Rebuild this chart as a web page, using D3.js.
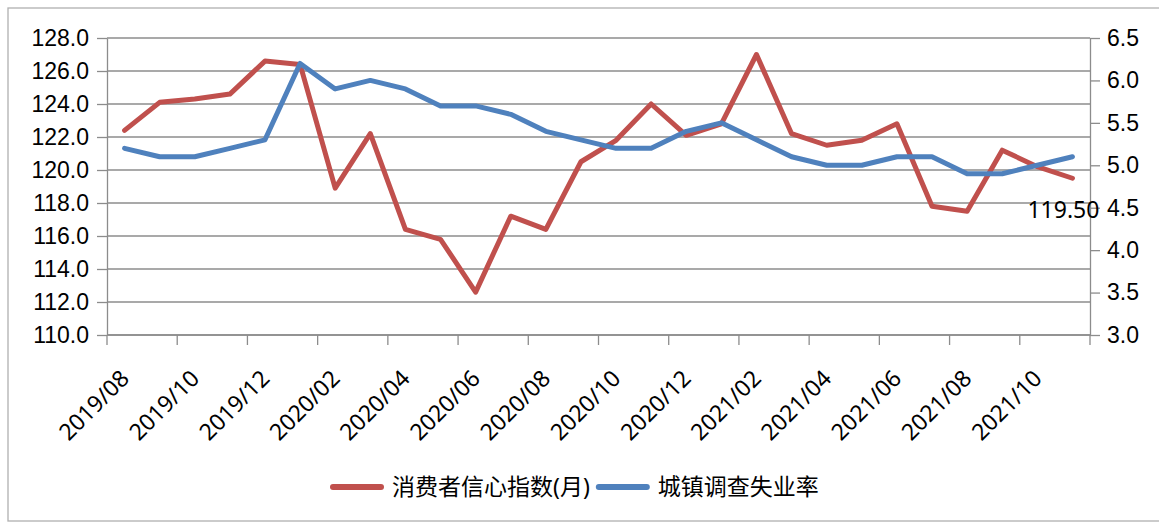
<!DOCTYPE html>
<html>
<head>
    <meta charset="UTF-8">
    <title>消费者信心指数与城镇调查失业率</title>
    <script src="https://d3js.org/d3.v7.min.js"></script>
    <style>
        body { margin: 0; padding: 0; background: #fff; }
        svg { display: block; font-family: "Noto Sans", "Noto Sans CJK SC", sans-serif; }
        .grid line { stroke: #8c8c8c; stroke-width: 1.3px; }
        .axis path, .axis line { stroke: #8c8c8c; stroke-width: 1.3px; }
        .axis text { fill: #000; font-size: 23px; }
        .series { fill: none; stroke-width: 5px; stroke-linejoin: round; stroke-linecap: round; }
    </style>
</head>
<body>
<svg id="chart" width="1159" height="523"></svg>
<script>
    // 数据
    const months = [
        "2019/08", "2019/09", "2019/10", "2019/11", "2019/12",
        "2020/01", "2020/02", "2020/03", "2020/04", "2020/05", "2020/06",
        "2020/07", "2020/08", "2020/09", "2020/10", "2020/11", "2020/12",
        "2021/01", "2021/02", "2021/03", "2021/04", "2021/05", "2021/06",
        "2021/07", "2021/08", "2021/09", "2021/10", "2021/11"
    ];
    const confidence = [
        122.4, 124.1, 124.3, 124.6, 126.6,
        126.4, 118.9, 122.2, 116.4, 115.8, 112.6,
        117.2, 116.4, 120.5, 121.8, 124.0, 122.1,
        122.8, 127.0, 122.2, 121.5, 121.8, 122.8,
        117.8, 117.5, 121.2, 120.2, 119.5
    ];
    const unemployment = [
        5.2, 5.1, 5.1, 5.2, 5.3,
        6.2, 5.9, 6.0, 5.9, 5.7, 5.7,
        5.6, 5.4, 5.3, 5.2, 5.2, 5.4,
        5.5, 5.3, 5.1, 5.0, 5.0, 5.1,
        5.1, 4.9, 4.9, 5.0, 5.1
    ];
    const leftTicks = d3.range(110, 128.01, 2);
    const rightTicks = d3.range(3.0, 6.51, 0.5);
    const seriesNames = ["消费者信心指数(月)", "城镇调查失业率"];
    const seriesColors = ["#C0504D", "#4F81BD"];

    const svg = d3.select("#chart");
    const plot = { left: 107, right: 1090, top: 38, bottom: 335 };

    // 外框
    svg.append("rect")
        .attr("x", 8).attr("y", 8)
        .attr("width", 1170).attr("height", 513)
        .attr("fill", "none")
        .attr("stroke", "#b0b0b0")
        .attr("stroke-width", 1.3);

    const x = d3.scaleBand().domain(months).range([plot.left, plot.right]).padding(0);
    const cx = d => x(d) + x.bandwidth() / 2;
    const yL = d3.scaleLinear().domain([110, 128]).range([plot.bottom, plot.top]);
    const yR = d3.scaleLinear().domain([3.0, 6.5]).range([plot.bottom, plot.top]);

    // 网格线
    svg.append("g").attr("class", "grid")
        .selectAll("line").data(leftTicks).join("line")
        .attr("x1", plot.left).attr("x2", plot.right)
        .attr("y1", d => yL(d)).attr("y2", d => yL(d));

    // 左轴
    svg.append("g").attr("class", "axis")
        .attr("transform", `translate(${plot.left},0)`)
        .call(d3.axisLeft(yL).tickValues(leftTicks).tickFormat(d3.format(".1f"))
            .tickSize(10).tickSizeOuter(0).tickPadding(8));

    // 右轴
    svg.append("g").attr("class", "axis")
        .attr("transform", `translate(${plot.right},0)`)
        .call(d3.axisRight(yR).tickValues(rightTicks).tickFormat(d3.format(".1f"))
            .tickSize(10).tickSizeOuter(0).tickPadding(7));

    // 底部类目轴：每两个月一个刻度
    const tickPos = months.filter((m, i) => i % 2 === 0).map(m => x(m)).concat([plot.right]);
    const bottom = svg.append("g").attr("class", "axis");
    bottom.append("line")
        .attr("x1", plot.left).attr("x2", plot.right)
        .attr("y1", plot.bottom).attr("y2", plot.bottom);
    bottom.selectAll("line.tick").data(tickPos).join("line")
        .attr("class", "tick")
        .attr("x1", d => d).attr("x2", d => d)
        .attr("y1", plot.bottom).attr("y2", plot.bottom + 10);
    bottom.selectAll("text").data(months.filter((m, i) => i % 2 === 0)).join("text")
        .attr("text-anchor", "end")
        .attr("transform", d => `translate(${cx(d) + 6},${380}) rotate(-45)`)
        .text(d => d);

    // 折线
    const lineL = d3.line().x((d, i) => cx(months[i])).y(d => yL(d));
    const lineR = d3.line().x((d, i) => cx(months[i])).y(d => yR(d));

    svg.append("path").attr("class", "series")
        .attr("stroke", seriesColors[0])
        .attr("d", lineL(confidence));
    svg.append("path").attr("class", "series")
        .attr("stroke", seriesColors[1])
        .attr("d", lineR(unemployment));

    // 最后一个数据标签
    const last = confidence.length - 1;
    svg.append("text")
        .attr("x", cx(months[last]) - 9)
        .attr("y", yL(confidence[last]) + 40)
        .attr("text-anchor", "middle")
        .attr("font-size", 23)
        .attr("fill", "#000")
        .text(confidence[last].toFixed(2));

    // 图例
    const legend = svg.append("g").attr("transform", "translate(330,487)");
    let lx = 0;
    seriesNames.forEach((name, i) => {
        legend.append("line")
            .attr("x1", lx + 3).attr("x2", lx + 51)
            .attr("y1", 0).attr("y2", 0)
            .attr("stroke", seriesColors[i])
            .attr("stroke-width", 6)
            .attr("stroke-linecap", "round");
        const t = legend.append("text")
            .attr("x", lx + 62)
            .attr("y", 8)
            .attr("font-size", 23)
            .attr("fill", "#000")
            .text(name);
        lx += 62 + t.node().getComputedTextLength() + 6;
    });
</script>
</body>
</html>
